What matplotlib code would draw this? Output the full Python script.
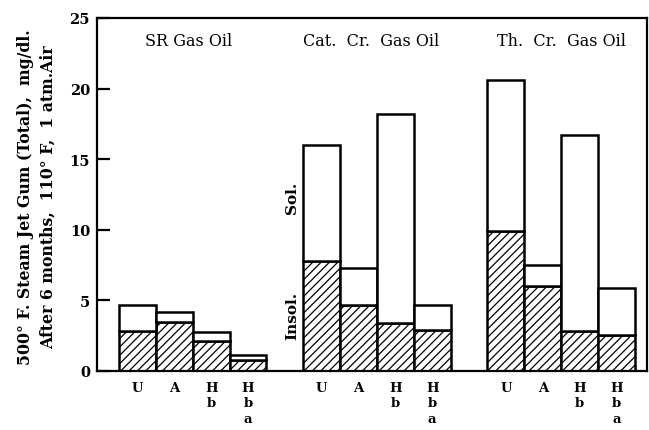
import matplotlib
matplotlib.use("Agg")
import matplotlib.pyplot as plt
import numpy as np

plt.rcParams['font.family'] = ['DejaVu Serif']
plt.rcParams['hatch.linewidth'] = 0.9

groups = ["SR Gas Oil", "Cat.  Cr.  Gas Oil", "Th.  Cr.  Gas Oil"]
bar_labels = ["U", "A", "H\nb", "H\nb\na"]

# total gum and insoluble part, per group (U, A, Hb, Hba)
total = [
    [4.7, 4.2, 2.75, 1.1],
    [16.0, 7.3, 18.2, 4.7],
    [20.6, 7.5, 16.7, 5.9],
]
insol = [
    [2.8, 3.45, 2.1, 0.75],
    [7.8, 4.7, 3.4, 2.9],
    [9.9, 6.0, 2.8, 2.55],
]

fig = plt.figure(figsize=(6.49, 4.31), dpi=100)
ax = fig.add_axes([97/649, 59/431, 550/649, 353/431])

xpos = []
xlab = []
for g in range(3):
    x = np.arange(4) + g * 5
    ax.bar(x, insol[g], width=1.0, color="white", edgecolor="black",
           linewidth=1.8, hatch="////", zorder=2)
    sol = np.array(total[g]) - np.array(insol[g])
    ax.bar(x, sol, width=1.0, bottom=insol[g], color="white",
           edgecolor="black", linewidth=1.8, zorder=2)
    xpos.extend(x)
    xlab.extend(bar_labels)

title_x = [1.4, 6.35, 11.5]
for g in range(3):
    ax.text(title_x[g], 23.4, groups[g], ha="center", va="center",
            fontsize=11.5)

ax.text(4.2, 12.3, "Sol.", rotation=90, ha="center", va="center",
        fontsize=11, fontweight="bold")
ax.text(4.2, 4.0, "Insol.", rotation=90, ha="center", va="center",
        fontsize=11, fontweight="bold")

ax.set_xlim(-1.1, 13.83)
ax.set_ylim(0, 25)
ax.set_yticks([0, 5, 10, 15, 20, 25])
ax.set_yticklabels(["0", "5", "10", "15", "20", "25"], fontweight="bold")
ax.tick_params(axis="y", direction="in", length=9, width=1.6, labelsize=10.5, pad=5)
ax.set_xticks(xpos)
ax.set_xticklabels(xlab, fontsize=9.5, fontweight="bold", linespacing=1.25, va="top")
ax.tick_params(axis="x", length=0, pad=7)
for s in ax.spines.values():
    s.set_linewidth(1.6)

fig.text(37/649, 1 - 197/431,
         "500° F. Steam Jet Gum (Total),  mg/dl.\nAfter 6 months,  110° F,  1 atm.Air",
         rotation=90, ha="center", va="center", fontsize=11.3,
         fontweight="bold", linespacing=1.4)

fig.savefig("out.png", dpi=100)
